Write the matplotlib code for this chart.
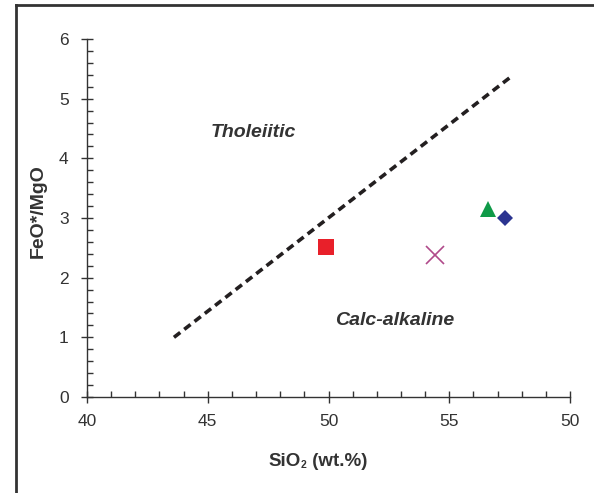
import numpy as np
import matplotlib
matplotlib.use('Agg')
import matplotlib.pyplot as plt
from matplotlib.lines import Line2D
from matplotlib.transforms import offset_copy

plt.rcParams['font.family'] = ['Liberation Sans', 'DejaVu Sans']

# sample points (SiO2 wt.%, FeO*/MgO)
sio2 = [49.9, 54.4, 56.6, 57.3]
feo_mgo = [2.52, 2.38, 3.15, 3.00]
markers = ['s', 'x', '^', 'D']
colors = ['#e8202a', '#b04a8a', '#0f9a48', '#2b3490']
sizes = [11, 13, 11, 8]

# tholeiitic / calc-alkaline boundary
line_x = [43.6, 57.5]
line_y = [1.0, 5.35]

xticks = [40, 45, 50, 55, 60]
xticklabels = ['40', '45', '50', '55', '50']
yticks = [0, 1, 2, 3, 4, 5, 6]

ink = '#333333'

fig = plt.figure(figsize=(5.94, 4.93), dpi=100)
ax = fig.add_axes([0.1465, 0.1947, 0.8131, 0.7262])

ax.plot(line_x, line_y, color='#231f20', lw=2.6, dashes=(2.2, 1.4), solid_capstyle='butt')
for x, y, m, c, s in zip(sio2, feo_mgo, markers, colors, sizes):
    ax.plot(x, y, marker=m, color=c, ms=s, mew=1.2 if m == 'x' else 0, ls='none')

ax.text(46.9, 4.44, 'Tholeiitic', fontsize=14, fontweight='bold', style='italic',
        color=ink, ha='center', va='center')
ax.text(52.75, 1.29, 'Calc-alkaline', fontsize=14, fontweight='bold', style='italic',
        color=ink, ha='center', va='center')

ax.set_xlim(40, 60); ax.set_ylim(0, 6)
ax.set_xticks(xticks); ax.set_xticklabels(xticklabels)
ax.set_yticks(yticks)
ax.set_xticks(np.arange(40, 61, 1), minor=True)
ax.set_yticks(np.arange(0, 6.01, 0.2), minor=True)
for s in ['top', 'right']:
    ax.spines[s].set_visible(False)
for s in ['left', 'bottom']:
    ax.spines[s].set_color(ink); ax.spines[s].set_linewidth(1.0)
ax.tick_params(which='major', direction='inout', length=8.5, width=1.0, color=ink,
               labelsize=12.5, labelcolor=ink)
ax.tick_params(axis='x', which='major', pad=8)
ax.tick_params(axis='y', which='major', pad=9)
ax.tick_params(which='minor', direction='in', length=4.3, width=1.0, color=ink)

ax.set_ylabel('FeO*/MgO', fontsize=14, fontweight='bold', color=ink)
ax.yaxis.set_label_coords(-0.083, 0.52)
ax.patch.set_alpha(0)

# x label with a small subscript, built from pieces
fig.canvas.draw()
r = fig.canvas.get_renderer()
lab_y = 1 - 466 / 493
kw = dict(fontsize=13.5, fontweight='bold', color=ink, va='baseline', transform=fig.transFigure)
parts = [fig.text(0, lab_y, 'SiO', **kw),
         fig.text(0, lab_y, '2', **{**kw, 'fontsize': 7.5}),
         fig.text(0, lab_y, ' (wt.%)', **kw)]
widths = [p.get_window_extent(r).width for p in parts]
x0 = 318 - sum(widths) / 2
for p, w in zip(parts, widths):
    p.set_x(x0 / fig.bbox.width)
    x0 += w
parts[1].set_transform(offset_copy(fig.transFigure, fig=fig, x=0, y=-1.5, units='points'))

# frame around figure (left and top edges only)
fig.add_artist(Line2D([15.5 / 594, 15.5 / 594], [0, 1 - 5 / 493], transform=fig.transFigure,
                      color='#333333', lw=2.0))
fig.add_artist(Line2D([15.5 / 594, 1], [1 - 5 / 493, 1 - 5 / 493], transform=fig.transFigure,
                      color='#333333', lw=2.0))

fig.savefig('out.png', dpi=100)
